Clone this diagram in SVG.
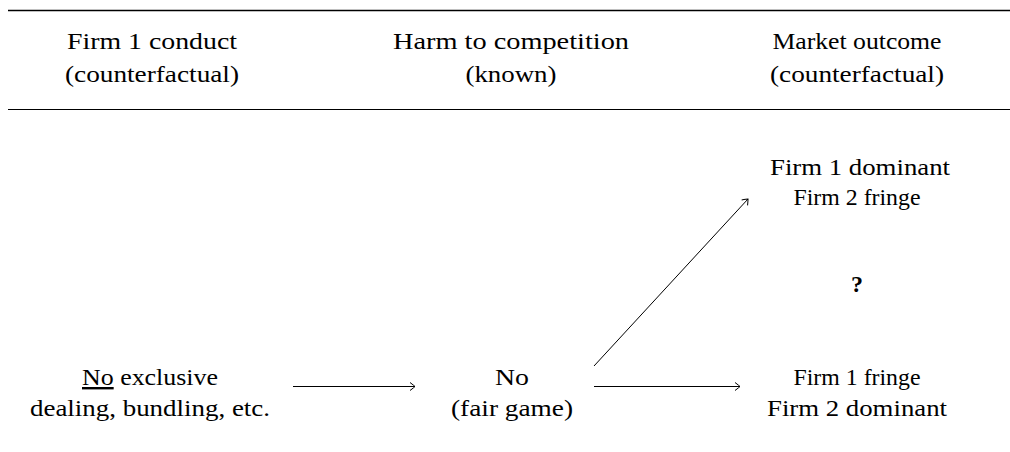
<svg xmlns="http://www.w3.org/2000/svg" width="1010" height="452" viewBox="0 0 1010 452">
<style>
text{font-family:"Liberation Serif","DejaVu Serif",serif;font-size:24px;fill:#000;text-anchor:middle}
.rule{stroke:#000}
.conn{stroke:#000;stroke-width:1;fill:none;marker-end:url(#tip)}
</style>
<defs>
<marker id="tip" viewBox="-6 -5 8 10" markerWidth="8" markerHeight="10" refX="0" refY="0" orient="auto" markerUnits="userSpaceOnUse">
<path d="M-5,-4 Q-1,-1 0,0 Q-1,1 -5,4" fill="none" stroke="#000" stroke-width="1"/>
</marker>
</defs>
<g id="header">
<line class="rule" x1="8" y1="10.5" x2="1010" y2="10.5" stroke-width="1.6"/>
<line class="rule" x1="8" y1="109.5" x2="1010" y2="109.5" stroke-width="1"/>
<text x="152" y="49" textLength="170" lengthAdjust="spacingAndGlyphs">Firm 1 conduct</text>
<text x="152" y="82" textLength="174" lengthAdjust="spacingAndGlyphs">(counterfactual)</text>
<text x="511" y="49" textLength="236" lengthAdjust="spacingAndGlyphs">Harm to competition</text>
<text x="511" y="82" textLength="91" lengthAdjust="spacingAndGlyphs">(known)</text>
<text x="857" y="49" textLength="169" lengthAdjust="spacingAndGlyphs">Market outcome</text>
<text x="857" y="82" textLength="174" lengthAdjust="spacingAndGlyphs">(counterfactual)</text>
</g>
<g id="conduct">
<text x="150" y="385" textLength="136" lengthAdjust="spacingAndGlyphs"><tspan text-decoration="underline">No</tspan> exclusive</text>
<text x="150" y="416" textLength="240" lengthAdjust="spacingAndGlyphs">dealing, bundling, etc.</text>
</g>
<g id="harm">
<text x="512" y="385" textLength="34" lengthAdjust="spacingAndGlyphs">No</text>
<text x="512" y="416" textLength="122" lengthAdjust="spacingAndGlyphs">(fair game)</text>
</g>
<g id="outcome-top">
<text x="860" y="175" textLength="180" lengthAdjust="spacingAndGlyphs">Firm 1 dominant</text>
<text x="857" y="205" textLength="127" lengthAdjust="spacingAndGlyphs">Firm 2 fringe</text>
</g>
<g id="question">
<text x="857" y="292" font-weight="bold">?</text>
</g>
<g id="outcome-bottom">
<text x="857" y="385" textLength="127" lengthAdjust="spacingAndGlyphs">Firm 1 fringe</text>
<text x="857" y="416" textLength="180" lengthAdjust="spacingAndGlyphs">Firm 2 dominant</text>
</g>
<g id="connectors">
<line class="conn" x1="293" y1="386.5" x2="415" y2="386.5"/>
<line class="conn" x1="594" y1="386.5" x2="740" y2="386.5"/>
<line class="conn" x1="594" y1="366" x2="748" y2="199"/>
</g>
</svg>
